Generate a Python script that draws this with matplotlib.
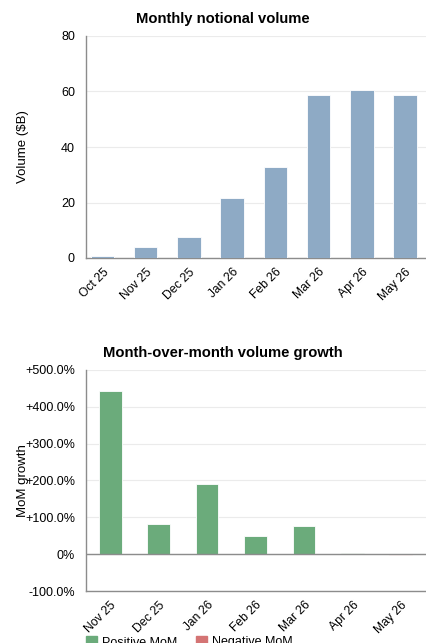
import matplotlib.pyplot as plt
from matplotlib.patches import Patch
from matplotlib.ticker import FuncFormatter

plt.rcParams['font.family'] = ['Liberation Sans', 'DejaVu Sans']

# data
months = ["Oct 25", "Nov 25", "Dec 25", "Jan 26", "Feb 26", "Mar 26", "Apr 26", "May 26"]
volume = [0.9, 4.0, 7.4, 21.6, 32.9, 58.6, 60.5, 58.7]
mom_months = ["Nov 25", "Dec 25", "Jan 26", "Feb 26", "Mar 26", "Apr 26", "May 26"]
mom_growth = [443.7, 82.2, 189.8, 49.6, 76.8, 3.2, -3.0]

blue = "#8eaac5"
green = "#6bab7b"
red = "#d47474"
grid_c = "#ebebeb"
spine_c = "#8c8c8c"

fig = plt.figure(figsize=(4.27, 6.43), dpi=100)

# ---------------- top: monthly volume ----------------
ax1 = fig.add_axes([86/427, 385/643, 345/427, 222/643])
x = range(len(months))
ax1.bar(x, volume, width=0.54, color=blue, edgecolor="white", linewidth=0.6, zorder=3)
ax1.set_xlim(-0.38, 7.6)
ax1.set_ylim(0, 80)
ax1.set_yticks([0, 20, 40, 60, 80])
ax1.set_xticks(list(x))
ax1.set_xticklabels(months, rotation=45, ha='right', rotation_mode='anchor', fontsize=8.7)
ax1.tick_params(axis='y', labelsize=9, length=0, pad=8)
ax1.tick_params(axis='x', length=0, pad=6)
ax1.grid(axis='y', color=grid_c, linewidth=0.8, zorder=0)
for s in ["top", "right"]:
    ax1.spines[s].set_visible(False)
for s in ["left", "bottom"]:
    ax1.spines[s].set_color(spine_c)
    ax1.spines[s].set_linewidth(1.0)
ax1.set_ylabel("Volume ($B)", fontsize=9.5)
ax1.yaxis.set_label_coords(-0.165, 0.5)
ax1.set_title("Monthly notional volume", fontsize=10.6, fontweight='bold', pad=9, x=(223 - 86) / 345)

# ---------------- bottom: MoM growth ----------------
ax2 = fig.add_axes([86/427, 52/643, 341/427, 221/643])
x2 = range(len(mom_months))
cols = [green if v >= 0 else red for v in mom_growth]
ax2.bar(x2, mom_growth, width=0.47, color=cols, edgecolor="white", linewidth=0.6, zorder=3)
ax2.axhline(0, color=spine_c, linewidth=1.0, zorder=4)
ax2.set_xlim(-0.5, 6.54)
ax2.set_ylim(-100, 500)
ax2.set_yticks([-100, 0, 100, 200, 300, 400, 500])


def pct(v, pos):
    if v == 0:
        return "0%"
    return f"{v:+.1f}%"


ax2.yaxis.set_major_formatter(FuncFormatter(pct))
ax2.set_xticks(list(x2))
ax2.set_xticklabels(mom_months, rotation=45, ha='right', rotation_mode='anchor', fontsize=8.7)
ax2.tick_params(axis='y', labelsize=9, length=0, pad=8)
ax2.tick_params(axis='x', length=0, pad=6)
ax2.grid(axis='y', color=grid_c, linewidth=0.8, zorder=0)
for s in ["top", "right"]:
    ax2.spines[s].set_visible(False)
for s in ["left", "bottom"]:
    ax2.spines[s].set_color(spine_c)
    ax2.spines[s].set_linewidth(1.0)
ax2.set_ylabel("MoM growth", fontsize=9.5)
ax2.yaxis.set_label_coords(-0.167, 0.5)
ax2.set_title("Month-over-month volume growth", fontsize=10.6, fontweight='bold', pad=9, x=(223 - 86) / 341)

handles = [Patch(color=green, label="Positive MoM"), Patch(color=red, label="Negative MoM")]
fig.legend(handles=handles, loc='upper left', bbox_to_anchor=(86/427, 7/643), bbox_transform=fig.transFigure,
           ncol=2, frameon=False, fontsize=9, handlelength=0.9, handleheight=0.9, columnspacing=1.45,
           handletextpad=0.4, borderaxespad=0, borderpad=0)

fig.savefig("out.png", dpi=100)
